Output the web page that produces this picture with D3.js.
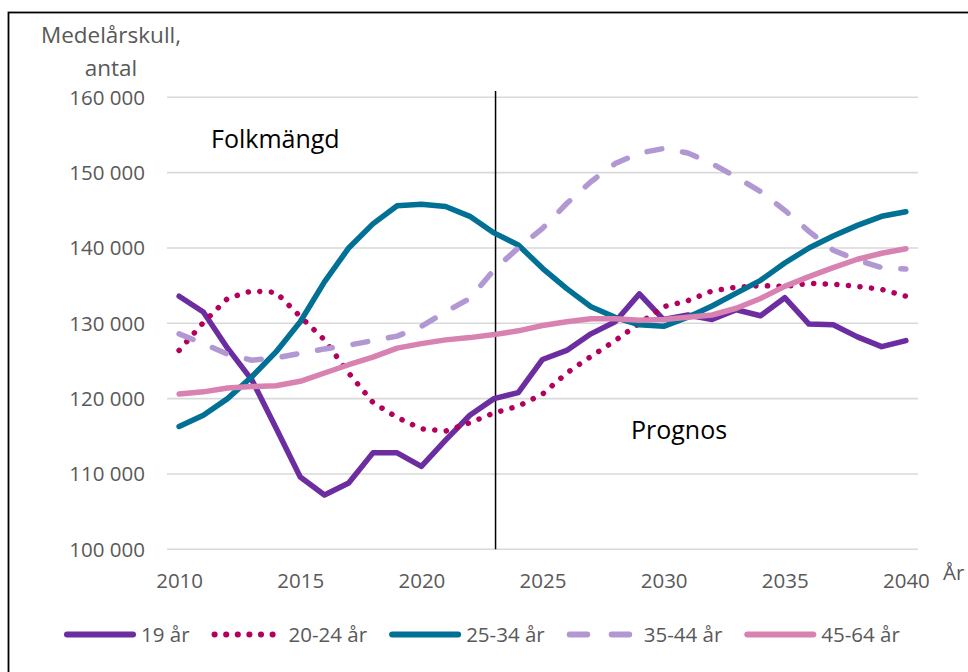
<!DOCTYPE html>
<html lang="sv">
<head>
<meta charset="utf-8">
<title>Medelårskull per åldersgrupp</title>
<script src="https://d3js.org/d3.v7.min.js"></script>
<style>
  body { margin: 0; background: #fff; }
  svg text { font-family: "Open Sans", sans-serif; }
  .tick-label { fill: #595959; font-size: 20.5px; }
  .axis-title { fill: #595959; font-size: 22.5px; }
  .note { fill: #000; font-size: 25px; }
</style>
</head>
<body>
<script>
// years on the category axis
var years = [2010, 2011, 2012, 2013, 2014, 2015, 2016, 2017, 2018, 2019, 2020,
             2021, 2022, 2023, 2024, 2025, 2026, 2027, 2028, 2029, 2030,
             2031, 2032, 2033, 2034, 2035, 2036, 2037, 2038, 2039, 2040];
var xTickYears = [2010, 2015, 2020, 2025, 2030, 2035, 2040];
var yTicks = [100000, 110000, 120000, 130000, 140000, 150000, 160000];
var splitYear = 2023;

// series values
var age19 = [133600, 131500, 126700, 122500, 116100, 109600, 107200, 108800, 112800, 112800, 111000,
             114500, 117800, 120000, 120800, 125200, 126400, 128600, 130200, 133900, 130500,
             131100, 130500, 131800, 131000, 133400, 129900, 129800, 128200, 126900, 127700];
var age20_24 = [126400, 130100, 133300, 134300, 134100, 130900, 127800, 123400, 119500, 117500, 116000,
                115700, 116800, 118100, 119000, 120600, 123400, 125600, 127700, 130000, 132200,
                133000, 134300, 134800, 135000, 134900, 135300, 135200, 134900, 134500, 133600];
var age25_34 = [116300, 117800, 120000, 122900, 126200, 130200, 135500, 140000, 143200, 145600, 145800,
                145500, 144200, 142000, 140400, 137300, 134600, 132200, 130800, 129800, 129600,
                130800, 132300, 134000, 135700, 138000, 140000, 141600, 143000, 144200, 144800];
var age35_44 = [128600, 127300, 125900, 125100, 125400, 126000, 126600, 127100, 127700, 128300, 129600,
                131500, 133300, 137100, 140000, 142600, 145900, 148800, 151200, 152600, 153200,
                152600, 151200, 149400, 147500, 145000, 142200, 139700, 138400, 137400, 137200];
var age45_64 = [120600, 120900, 121400, 121600, 121700, 122300, 123400, 124500, 125500, 126700, 127300,
                127800, 128100, 128500, 129000, 129700, 130200, 130600, 130600, 130400, 130500,
                130800, 131100, 132000, 133300, 134900, 136200, 137400, 138500, 139300, 139900];

var seriesNames = ["19 år", "20-24 år", "25-34 år", "35-44 år", "45-64 år"];
var seriesValues = [age19, age20_24, age25_34, age35_44, age45_64];
var seriesColors = ["#6b2da0", "#b4005c", "#007094", "#b298d3", "#d882b2"];
var seriesDash = ["none", "0.1,11.5", "none", "15,21", "none"];

var W = 968, H = 672;
var plot = {left: 167, right: 918, top: 97.3, bottom: 549.3};

var svg = d3.select("body").append("svg")
    .attr("width", W)
    .attr("height", H);

// outer frame (runs off the right and bottom edges)
svg.append("rect")
    .attr("x", 8.5).attr("y", 12.5)
    .attr("width", W + 20).attr("height", H + 20)
    .attr("fill", "none")
    .attr("stroke", "#000")
    .attr("stroke-width", 1.8);

var x = d3.scalePoint()
    .domain(years)
    .range([plot.left, plot.right])
    .padding(0.5);

var y = d3.scaleLinear()
    .domain([100000, 160000])
    .range([plot.bottom, plot.top]);

var fmt = function(d) { return d3.format(",")(d).replace(/,/g, " "); };

// gridlines
svg.append("g")
  .selectAll("line")
  .data(yTicks)
  .enter().append("line")
    .attr("x1", plot.left).attr("x2", plot.right)
    .attr("y1", function(d) { return y(d); })
    .attr("y2", function(d) { return y(d); })
    .attr("stroke", "#d9d9d9")
    .attr("stroke-width", 1.6);

// y axis labels
var yAxis = svg.append("g")
    .attr("transform", "translate(" + (plot.left - 22) + ",0)")
    .call(d3.axisLeft(y).tickValues(yTicks).tickFormat(fmt).tickSize(0).tickPadding(0));
yAxis.select(".domain").remove();
yAxis.selectAll("text")
    .attr("class", "tick-label")
    .attr("font-family", null).attr("font-size", null)
    .attr("dy", "0.34em");

// x axis labels
var xAxis = svg.append("g")
    .attr("transform", "translate(0," + plot.bottom + ")")
    .call(d3.axisBottom(x).tickValues(xTickYears).tickSize(0).tickPadding(0));
xAxis.select(".domain").remove();
xAxis.selectAll("text")
    .attr("class", "tick-label")
    .attr("font-family", null).attr("font-size", null)
    .attr("dy", null)
    .attr("y", 39);

// axis titles
var yTitle = svg.append("text")
    .attr("class", "axis-title")
    .attr("text-anchor", "middle")
    .attr("x", 111).attr("y", 43);
yTitle.append("tspan").attr("x", 111).text("Medelårskull,");
yTitle.append("tspan").attr("x", 111).attr("dy", 33).text("antal");

svg.append("text")
    .attr("class", "tick-label")
    .attr("x", 943).attr("y", 580)
    .text("År");

// split line between history and forecast
svg.append("line")
    .attr("x1", x(splitYear) + 1.5).attr("x2", x(splitYear) + 1.5)
    .attr("y1", 91).attr("y2", plot.bottom)
    .attr("stroke", "#000")
    .attr("stroke-width", 1.5);

// series lines
var line = d3.line()
    .x(function(d, i) { return x(years[i]); })
    .y(function(d) { return y(d); });

seriesValues.forEach(function(vals, k) {
  svg.append("path")
      .datum(vals)
      .attr("d", line)
      .attr("fill", "none")
      .attr("stroke", seriesColors[k])
      .attr("stroke-width", 5.5)
      .attr("stroke-linecap", "round")
      .attr("stroke-linejoin", "round")
      .attr("stroke-dasharray", seriesDash[k]);
});

// annotations
svg.append("text").attr("class", "note")
    .attr("x", 211).attr("y", 148).text("Folkmängd");
svg.append("text").attr("class", "note")
    .attr("x", 631).attr("y", 439).text("Prognos");

// legend
var legendY = 634.5;
var lx = 64;
seriesNames.forEach(function(name, k) {
  var g = svg.append("g");
  g.append("line")
      .attr("x1", lx + 3).attr("x2", lx + 69)
      .attr("y1", legendY).attr("y2", legendY)
      .attr("stroke", seriesColors[k])
      .attr("stroke-width", 6)
      .attr("stroke-linecap", "round")
      .attr("stroke-dasharray", k == 1 ? "0.1,11.5" : (k == 3 ? "17.5,24.5" : "none"));
  var t = g.append("text")
      .attr("class", "tick-label")
      .attr("x", lx + 77).attr("y", legendY + 7)
      .text(name);
  lx = lx + 77 + t.node().getComputedTextLength() + 22;
});
</script>
</body>
</html>
